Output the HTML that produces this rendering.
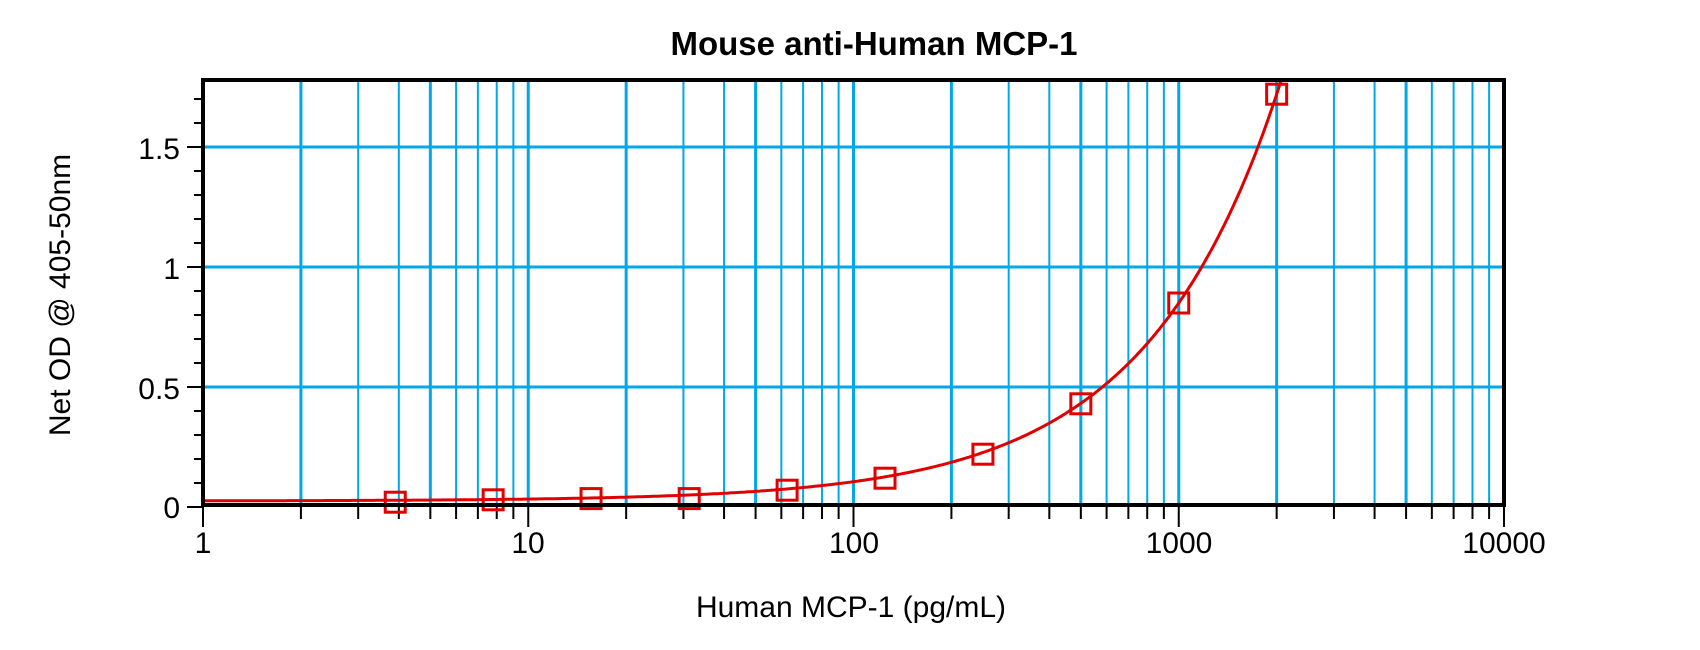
<!DOCTYPE html>
<html><head><meta charset="utf-8"><style>
html,body{margin:0;padding:0;background:#fff;}
svg{display:block;}
text{font-family:"Liberation Sans",Arial,sans-serif;fill:#000;}
</style></head><body>
<svg id="c" width="1700" height="650" viewBox="0 0 1700 650" xmlns="http://www.w3.org/2000/svg">
<g id="grid"></g>
<g id="ticks"></g>
<path id="curve" fill="none" stroke="#e00000" stroke-width="3"/>
<g id="marks"></g>
<rect x="203" y="80" width="1301" height="425" fill="none" stroke="#000" stroke-width="4"/>
<text x="874" y="55" font-size="33" font-weight="bold" text-anchor="middle">Mouse anti-Human MCP-1</text>
<g font-size="30" text-anchor="end">
<text x="180" y="518">0</text>
<text x="180" y="399">0.5</text>
<text x="180" y="279">1</text>
<text x="180" y="159">1.5</text>
</g>
<g font-size="30" text-anchor="middle">
<text x="203" y="553">1</text>
<text x="528" y="553">10</text>
<text x="854" y="553">100</text>
<text x="1179" y="553">1000</text>
<text x="1504" y="553">10000</text>
</g>
<text x="851" y="617" font-size="30" text-anchor="middle">Human MCP-1 (pg/mL)</text>
<text transform="translate(70,295) rotate(-90)" font-size="30" text-anchor="middle">Net OD @ 405-50nm</text>
</svg>
<script>
var NS="http://www.w3.org/2000/svg";
function el(p,t,a){var e=document.createElementNS(NS,t);for(var k in a)e.setAttribute(k,a[k]);document.getElementById(p).appendChild(e);return e;}
var X0=203,D=325.25,Y0=507,U=240,T=80,R=1504,B=505;
function xp(v){return X0+Math.log10(v)*D;}
function yp(v){return Y0-v*U;}
for(var d=0;d<4;d++)for(var m=1;m<=9;m++){
 var v=Math.pow(10,d)*m, x=xp(v);
 if(x>X0+2) el("grid","line",{x1:x,y1:T,x2:x,y2:B,stroke:"#00a8e8","stroke-width":(m==1||m==2||m==5)?3:2});
 el("ticks","line",{x1:x,y1:B,x2:x,y2:B+(m==1?22:14),stroke:"#000","stroke-width":2});
}
el("ticks","line",{x1:R,y1:B,x2:R,y2:B+22,stroke:"#000","stroke-width":2});
[0.5,1,1.5].forEach(function(v){el("grid","line",{x1:X0,y1:yp(v),x2:R,y2:yp(v),stroke:"#00a8e8","stroke-width":3});});
for(var i=0;i<=17;i++){var y=yp(i/10);el("ticks","line",{x1:X0-(i%5==0?16:9),y1:y,x2:X0,y2:y,stroke:"#000","stroke-width":2});}
function f(x){return 0.025+0.0008025*x+2.25e-8*x*x;}
var d="";
for(var i=0;i<=600;i++){var lx=i/600*3.4, x=Math.pow(10,lx), y=f(x);var py=yp(y);if(py<T){py=T;}d+=(i?"L":"M")+xp(x).toFixed(1)+" "+py.toFixed(1);if(yp(y)<T)break;}
document.getElementById("curve").setAttribute("d",d);
var pts=[[3.9,0.02],[7.8,0.03],[15.6,0.035],[31.25,0.035],[62.5,0.07],[125,0.12],[250,0.22],[500,0.43],[1000,0.85],[2000,1.72]];
pts.forEach(function(p){var x=xp(p[0]),y=yp(p[1]);el("marks","rect",{x:x-10,y:y-10,width:20,height:20,fill:"none",stroke:"#e00000","stroke-width":3});});
</script>
</body></html>
